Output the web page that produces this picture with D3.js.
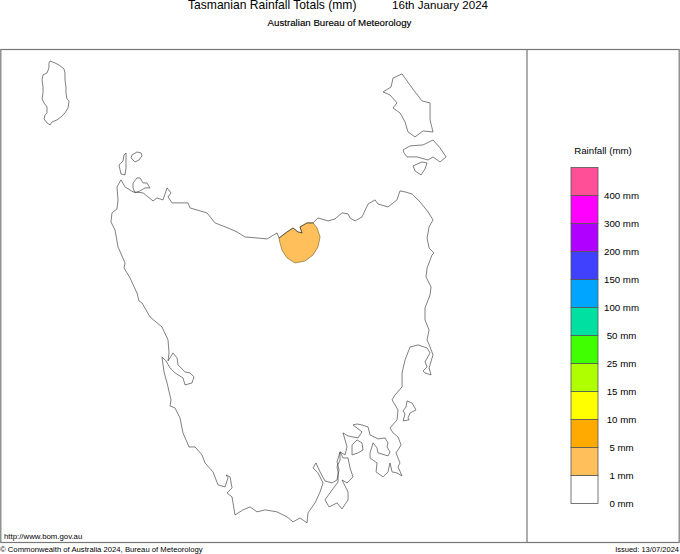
<!DOCTYPE html>
<html lang="en">
<head>
<meta charset="UTF-8">
<title>Tasmanian Rainfall Totals</title>
<script src="https://d3js.org/d3.v7.min.js"></script>
<style>
  html, body { margin: 0; padding: 0; background: #fff; }
  svg { display: block; font-family: "Liberation Sans", Arial, sans-serif; }
  .coast { fill: none; stroke: #3a3a3a; stroke-width: 0.65; stroke-linejoin: round; }
  .frame { stroke: #777; stroke-width: 1.2; fill: none; }
</style>
</head>
<body>
<div id="chart"></div>
<script>
// coastlines as [lon, lat]
const kingIsland = [[143.945,-39.600],[144.000,-39.618],[144.044,-39.636],[144.100,-39.672],[144.111,-39.709],[144.111,-39.772],[144.122,-39.836],[144.122,-39.890],[144.133,-39.945],[144.156,-39.963],[144.145,-40.027],[144.111,-40.072],[144.067,-40.109],[144.022,-40.136],[143.967,-40.154],[143.945,-40.181],[143.911,-40.163],[143.878,-40.127],[143.889,-40.090],[143.911,-40.072],[143.911,-40.018],[143.878,-39.981],[143.856,-39.945],[143.867,-39.890],[143.867,-39.836],[143.856,-39.772],[143.867,-39.727],[143.911,-39.709],[143.933,-39.663],[143.933,-39.618]];
const hunterIsland = [[144.789,-40.436],[144.789,-40.500],[144.789,-40.573],[144.778,-40.636],[144.733,-40.627],[144.711,-40.545],[144.756,-40.509],[144.767,-40.454]];
const threeHummock = [[144.856,-40.454],[144.911,-40.427],[144.956,-40.436],[144.967,-40.463],[144.933,-40.500],[144.889,-40.518],[144.845,-40.481]];
const robbinsIsland = [[144.867,-40.709],[144.911,-40.663],[144.945,-40.663],[144.978,-40.709],[145.022,-40.709],[145.056,-40.754],[145.000,-40.754],[144.945,-40.781],[144.889,-40.799],[144.867,-40.754]];
const mainland = [[144.733,-40.681],[144.689,-40.745],[144.700,-40.863],[144.689,-40.945],[144.633,-40.981],[144.622,-41.063],[144.667,-41.136],[144.700,-41.290],[144.778,-41.436],[144.767,-41.481],[144.833,-41.572],[144.911,-41.709],[144.933,-41.781],[144.967,-41.800],[145.056,-41.927],[145.189,-42.018],[145.256,-42.136],[145.267,-42.254],[145.256,-42.327],[145.311,-42.254],[145.356,-42.299],[145.367,-42.363],[145.445,-42.427],[145.500,-42.436],[145.545,-42.472],[145.522,-42.527],[145.445,-42.545],[145.422,-42.481],[145.333,-42.436],[145.278,-42.390],[145.233,-42.327],[145.189,-42.290],[145.211,-42.427],[145.245,-42.527],[145.289,-42.681],[145.278,-42.736],[145.333,-42.754],[145.389,-42.845],[145.422,-42.981],[145.489,-43.109],[145.556,-43.109],[145.633,-43.181],[145.667,-43.254],[145.756,-43.336],[145.811,-43.454],[145.889,-43.472],[145.922,-43.390],[145.900,-43.363],[145.945,-43.381],[145.967,-43.481],[145.911,-43.527],[145.967,-43.563],[146.000,-43.727],[146.089,-43.681],[146.167,-43.654],[146.245,-43.699],[146.334,-43.681],[146.467,-43.699],[146.578,-43.745],[146.645,-43.790],[146.722,-43.754],[146.800,-43.799],[146.811,-43.709],[146.889,-43.618],[146.945,-43.518],[146.978,-43.436],[146.922,-43.345],[146.867,-43.300],[146.900,-43.254],[146.945,-43.336],[147.000,-43.418],[147.078,-43.436],[147.133,-43.409],[147.156,-43.318],[147.133,-43.245],[147.167,-43.154],[147.222,-43.181],[147.245,-43.109],[147.200,-42.981],[147.256,-43.009],[147.367,-43.027],[147.411,-42.972],[147.311,-42.909],[147.356,-42.900],[147.411,-42.909],[147.478,-42.927],[147.500,-42.999],[147.589,-43.036],[147.667,-43.027],[147.700,-43.072],[147.689,-43.109],[147.722,-43.154],[147.700,-43.190],[147.589,-43.163],[147.578,-43.118],[147.534,-43.072],[147.500,-43.163],[147.500,-43.209],[147.578,-43.254],[147.567,-43.336],[147.645,-43.381],[147.700,-43.336],[147.722,-43.254],[147.745,-43.336],[147.800,-43.345],[147.856,-43.372],[147.811,-43.290],[147.833,-43.254],[147.789,-43.163],[147.811,-43.136],[147.845,-43.090],[147.811,-43.018],[147.756,-42.981],[147.722,-42.936],[147.800,-42.863],[147.811,-42.772],[147.745,-42.681],[147.778,-42.636],[147.856,-42.563],[147.856,-42.436],[147.889,-42.318],[147.945,-42.200],[148.034,-42.181],[148.134,-42.209],[148.167,-42.254],[148.111,-42.336],[148.134,-42.381],[148.089,-42.418],[148.111,-42.436],[148.178,-42.454],[148.156,-42.390],[148.200,-42.272],[148.167,-42.200],[148.134,-42.136],[148.156,-42.045],[148.111,-41.954],[148.111,-41.845],[148.167,-41.727],[148.178,-41.654],[148.122,-41.563],[148.134,-41.481],[148.189,-41.363],[148.211,-41.345],[148.156,-41.300],[148.134,-41.209],[148.156,-41.109],[148.200,-41.045],[148.145,-40.972],[148.056,-40.881],[147.967,-40.809],[147.889,-40.790],[147.833,-40.781],[147.800,-40.863],[147.700,-40.927],[147.589,-40.900],[147.556,-40.863],[147.478,-40.900],[147.411,-41.018],[147.334,-41.054],[147.278,-41.027],[147.256,-40.990],[147.189,-40.981],[147.111,-41.036],[147.034,-41.054],[146.922,-41.027],[146.867,-41.072],[146.800,-41.072],[146.722,-41.109],[146.745,-41.163],[146.700,-41.154],[146.645,-41.118],[146.578,-41.154],[146.489,-41.209],[146.467,-41.163],[146.356,-41.218],[146.245,-41.209],[146.111,-41.200],[146.022,-41.154],[145.922,-41.118],[145.778,-41.072],[145.689,-40.981],[145.500,-40.936],[145.478,-40.890],[145.300,-40.890],[145.256,-40.836],[145.289,-40.799],[145.245,-40.754],[145.200,-40.863],[145.134,-40.845],[145.089,-40.872],[144.978,-40.799],[144.867,-40.790],[144.778,-40.745]];
const brunyIsland = [[147.167,-43.154],[147.200,-43.209],[147.256,-43.209],[147.278,-43.300],[147.311,-43.381],[147.245,-43.436],[147.189,-43.409],[147.256,-43.518],[147.256,-43.590],[147.189,-43.672],[147.133,-43.618],[147.045,-43.654],[147.000,-43.590],[147.078,-43.500],[147.145,-43.427],[147.145,-43.336],[147.133,-43.290],[147.167,-43.227]];
const norfolkLoop = [[147.300,-43.181],[147.300,-43.090],[147.356,-43.045],[147.411,-43.072],[147.422,-43.136],[147.367,-43.163]];
const mariaIsland = [[147.911,-42.690],[147.967,-42.709],[148.011,-42.772],[147.945,-42.800],[147.922,-42.845],[147.934,-42.863],[147.867,-42.872],[147.889,-42.809],[147.867,-42.781],[147.900,-42.745]];
const flindersIsland = [[147.856,-39.718],[147.756,-39.754],[147.734,-39.836],[147.645,-39.881],[147.722,-39.909],[147.800,-39.981],[147.756,-40.027],[147.833,-40.072],[147.889,-40.154],[147.922,-40.245],[148.000,-40.290],[148.089,-40.236],[148.200,-40.245],[148.167,-40.136],[148.167,-39.981],[148.078,-39.963],[147.967,-39.845]];
const capeBarren = [[147.867,-40.409],[147.945,-40.372],[148.089,-40.363],[148.200,-40.318],[148.278,-40.390],[148.345,-40.472],[148.278,-40.518],[148.200,-40.472],[148.145,-40.500],[148.022,-40.472],[147.911,-40.472],[147.878,-40.436]];
const clarkeIsland = [[147.978,-40.554],[148.078,-40.518],[148.134,-40.527],[148.111,-40.581],[148.067,-40.636],[148.000,-40.599]];
const coastlines = [kingIsland, hunterIsland, threeHummock, robbinsIsland, mainland, brunyIsland, norfolkLoop, mariaIsland, flindersIsland, capeBarren, clarkeIsland];

// the one rain area on this day, 1 to 5 mm
const rainArea = [[146.489,-41.209],[146.578,-41.154],[146.645,-41.118],[146.700,-41.154],[146.745,-41.163],[146.722,-41.109],[146.800,-41.072],[146.867,-41.072],[146.911,-41.118],[146.945,-41.200],[146.922,-41.290],[146.867,-41.363],[146.778,-41.418],[146.667,-41.436],[146.578,-41.390],[146.522,-41.318],[146.500,-41.254]];

// legend, lowest class first
const legendLabels = ["0 mm","1 mm","5 mm","10 mm","15 mm","25 mm","50 mm","100 mm","150 mm","200 mm","300 mm","400 mm"];
const legendColours = ["#ffffff","#ffc05c","#ffaa00","#ffff00","#b0ff00","#40ff00","#00e0a0","#00a5ff","#4040ff","#b000ff","#ff00ff","#ff4f96"];

const width = 680, height = 554;
const svg = d3.select("#chart").append("svg").attr("width", width).attr("height", height);

const x = d3.scaleLinear().domain([143.389, 149.233]).range([0, 526]);
const y = d3.scaleLinear().domain([-39.5, -43.973]).range([50, 542]);
const line = d3.line().x(d => x(d[0])).y(d => y(d[1])).curve(d3.curveLinearClosed);

// rain area first so the coast sits on top
svg.append("path").attr("d", line(rainArea))
    .attr("fill", legendColours[1]).attr("stroke", "#8a6a30").attr("stroke-width", 0.7);

svg.selectAll(".coast").data(coastlines).enter().append("path")
    .attr("class", "coast").attr("d", line);

// frame
svg.append("rect").attr("class", "frame").attr("x", 0.8).attr("y", 49.5).attr("width", 678.4).attr("height", 493);
svg.append("line").attr("class", "frame").attr("x1", 527).attr("x2", 527).attr("y1", 49.5).attr("y2", 542.5);

// titles
function label(px, py, text, size, anchor) {
    return svg.append("text").attr("x", px).attr("y", py)
        .attr("text-anchor", anchor || "start").attr("font-size", size).attr("fill", "#000").text(text);
}
label(188, 9, "Tasmanian Rainfall Totals (mm)", 12.1);
label(392, 9, "16th January 2024", 11.6);
label(339.5, 26, "Australian Bureau of Meteorology", 9.7, "middle").attr("stroke", "#000").attr("stroke-width", 0.15);
label(4, 539, "http://www.bom.gov.au", 7.8);
label(0, 552, "\u00a9 Commonwealth of Australia 2024, Bureau of Meteorology", 7.7);
label(679, 552, "Issued: 13/07/2024", 7.5, "end");
label(603, 154, "Rainfall (mm)", 9.7, "middle");

// legend
const legendY = d3.scaleLinear().domain([0, legendColours.length]).range([503.5, 167.5]);
const legendX = 571, legendW = 27;
svg.selectAll(".swatch").data(legendColours).enter().append("rect")
    .attr("class", "swatch")
    .attr("x", legendX).attr("width", legendW)
    .attr("y", (d, i) => legendY(i + 1))
    .attr("height", (d, i) => legendY(i) - legendY(i + 1))
    .attr("fill", d => d)
    .attr("stroke", "#555").attr("stroke-width", 0.8);

const legendAxis = d3.axisRight(legendY)
    .tickValues(d3.range(legendLabels.length))
    .tickFormat(i => legendLabels[i])
    .tickSize(0);
const axisG = svg.append("g").attr("transform", "translate(621.5,0)").call(legendAxis);
axisG.select(".domain").remove();
axisG.selectAll("text").attr("x", 0).attr("text-anchor", "middle")
    .attr("font-size", 9.7).attr("font-family", "Liberation Sans, Arial, sans-serif").attr("fill", "#000");
</script>
</body>
</html>
